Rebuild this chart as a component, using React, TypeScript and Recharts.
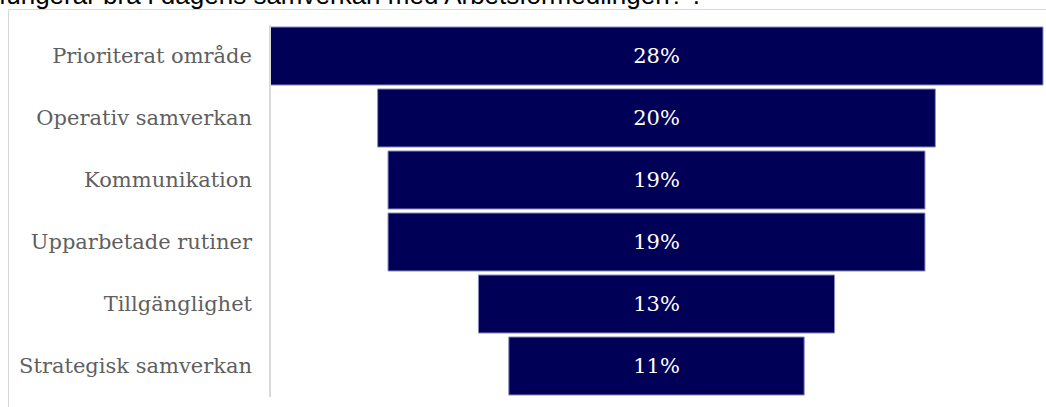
import React from "react";
import { BarChart, Bar, XAxis, YAxis, LabelList } from "recharts";

const categories = [
  "Prioriterat område",
  "Operativ samverkan",
  "Kommunikation",
  "Upparbetade rutiner",
  "Tillgänglighet",
  "Strategisk samverkan",
];
const values = [28, 20.2, 19.45, 19.45, 12.9, 10.7];
const maxValue = Math.max(...values);
const titleText = "fungerar bra i dagens samverkan med Arbetsförmedlingen?”.";

const data = categories.map((name, i) => ({
  name,
  offset: (maxValue - values[i]) / 2,
  value: values[i],
}));

const SERIF = "'DejaVu Serif', Georgia, serif";

export default function App() {
  return (
    <div style={{ position: "absolute", left: 0, top: 0, width: 1046, height: 407, overflow: "hidden", background: "#fff" }}>
      <svg width={1046} height={407} style={{ position: "absolute", left: 0, top: 0 }}>
        <text x={-1} y={4} fontSize={26} fontFamily="'Liberation Sans', Arial, sans-serif" fill="#000">
          {titleText}
        </text>
        <line x1={8.5} y1={9.5} x2={1046} y2={9.5} stroke="#d9d9d9" strokeWidth={1} />
        <line x1={8.5} y1={9.5} x2={8.5} y2={407} stroke="#d9d9d9" strokeWidth={1} />
      </svg>
      <div style={{ position: "absolute", left: 0, top: 0 }}>
        <BarChart
          width={1046}
          height={407}
          data={data}
          layout="vertical"
          margin={{ top: 25, right: 3, bottom: 10, left: 0 }}
          barCategoryGap={2}
        >
          <XAxis type="number" hide domain={[0, maxValue]} />
          <YAxis
            type="category"
            dataKey="name"
            width={270}
            axisLine={{ stroke: "#d9d9d9", strokeWidth: 2 }}
            tickLine={false}
            tickMargin={12}
            tick={{ fill: "#5f5f5f", fontSize: 21, fontFamily: SERIF }}
          />
          <Bar dataKey="offset" stackId="a" fill="transparent" isAnimationActive={false} />
          <Bar dataKey="value" stackId="a" fill="#000057" stroke="#8a8abf" strokeWidth={1} isAnimationActive={false}>
            <LabelList
              dataKey="value"
              position="center"
              formatter={(v: number) => `${Math.round(v)}%`}
              style={{ fill: "#ffffff", fontSize: 21, fontFamily: SERIF }}
            />
          </Bar>
        </BarChart>
      </div>
    </div>
  );
}
